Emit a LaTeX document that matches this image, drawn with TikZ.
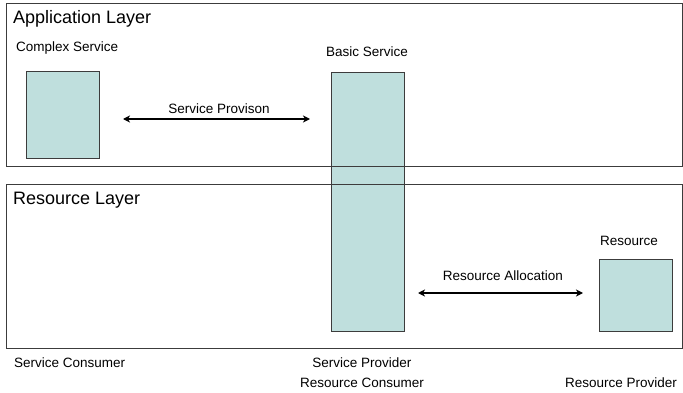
\documentclass[tikz,border=0pt]{standalone}
\usepackage{fontspec}
\setmainfont{Liberation Sans}
\usetikzlibrary{arrows.meta}
\definecolor{boxfill}{RGB}{191,223,221}
\definecolor{edge}{RGB}{60,60,60}
\begin{document}
\begin{tikzpicture}[x=1pt,y=-1pt,
  comp/.style={draw=edge, line width=0.9pt, fill=boxfill, anchor=north west, inner sep=0pt},
  layer/.style={draw=edge, line width=1pt, anchor=north west, inner sep=0pt},
  lbl/.style={font=\fontsize{13.5}{16}\selectfont, inner sep=0pt},
  big/.style={font=\fontsize{18}{21}\selectfont, inner sep=0pt, anchor=west},
  dbl/.style={line width=1.3pt, {Stealth[length=7pt,width=7pt,inset=2pt]}-{Stealth[length=7pt,width=7pt,inset=2pt]}}]
\useasboundingbox (0,0) rectangle (683,393);
% component boxes
\node[comp, minimum width=73pt, minimum height=87pt] (complex) at (26,71) {};
\node[comp, minimum width=73pt, minimum height=259pt] (basic) at (331,72) {};
\node[comp, minimum width=73pt, minimum height=72pt] (res) at (599,259) {};
% layers
\node[layer, minimum width=676pt, minimum height=163pt] (app) at (6,3) {};
\node[layer, minimum width=676pt, minimum height=164pt] (rl) at (6,184) {};
\node[big] (applbl) at (13,19) {Application Layer};
\node[big] (rllbl) at (13,200) {Resource Layer};
% labels
\node[lbl, anchor=west] (cslbl) at (16,48) {Complex Service};
\node[lbl] (bslbl) at (367,52) {Basic Service};
\node[lbl] (reslbl) at (629,241) {Resource};
\node[lbl, anchor=west] (sc) at (14,363) {Service Consumer};
\node[lbl] (sp) at (362,363) {Service Provider};
\node[lbl] (rc) at (362,383) {Resource Consumer};
\node[lbl] (rp) at (621,383) {Resource Provider};
% arrows
\coordinate (a1) at (123,119);
\coordinate (a2) at (310,119);
\coordinate (b1) at (418,293);
\coordinate (b2) at (583,293);
\draw[dbl] (a1) -- (a2);
\draw[dbl] (b1) -- (b2);
\node[lbl] (sprov) at (219,109) {Service Provison};
\node[lbl] (ralloc) at (503,276) {Resource Allocation};
\end{tikzpicture}
\end{document}
